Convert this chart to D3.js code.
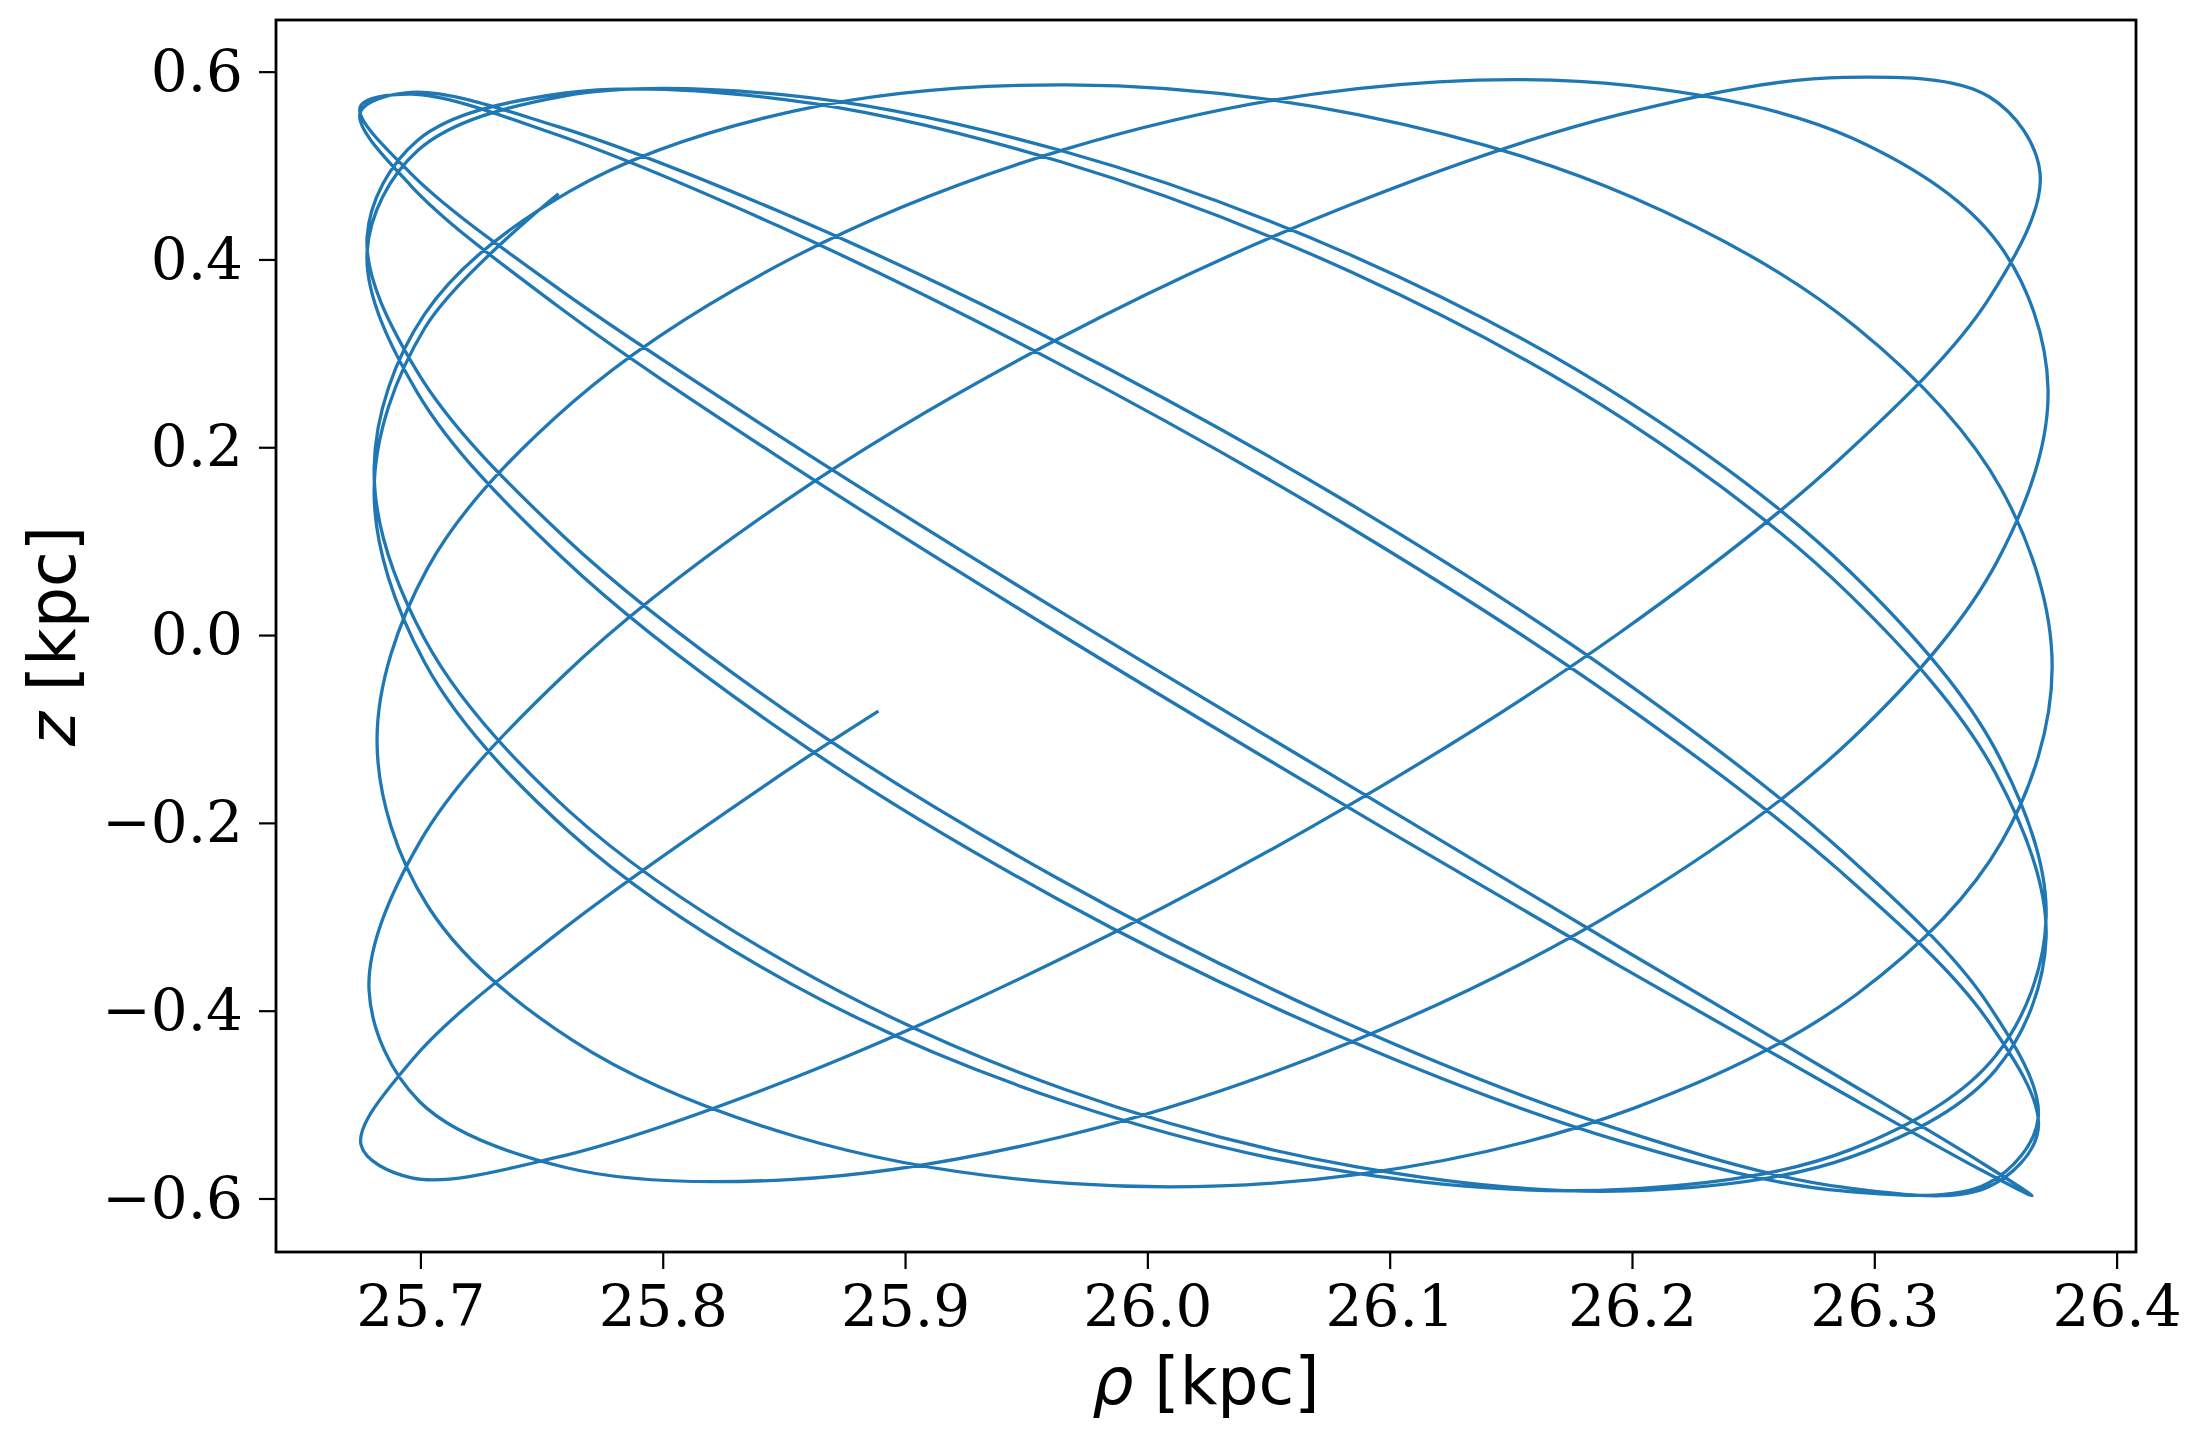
<!DOCTYPE html>
<html>
<head>
<meta charset="utf-8">
<script src="https://cdn.jsdelivr.net/npm/d3@7"></script>
<style>
  html, body { margin: 0; padding: 0; background: #ffffff; }
  svg { display: block; }
</style>
</head>
<body>
<svg id="chart" width="2201" height="1440"></svg>
<script>
// Orbit trace (rho in kpc, z in kpc), in drawing order.
const rho = [
  25.889, 25.8486, 25.7565, 25.6964,
  25.6755,
  25.6964, 25.7566, 25.8487, 25.9618, 26.0821, 26.1952, 26.2873, 26.3475, 26.3684,
  26.3476, 26.2877, 26.1960, 26.0835, 25.9637, 25.8512, 25.7595, 25.6996, 25.6788,
  25.6997, 25.7599, 25.8520, 25.9651, 26.0854, 26.1985, 26.2906, 26.3508, 26.3717,
  26.3509, 26.2910, 26.1993, 26.0868, 25.9670, 25.8545, 25.7628, 25.7029, 25.6821,
  25.7029, 25.7630, 25.8549, 25.9677, 26.0878, 26.2006, 26.2925, 26.3526, 26.3734,
  26.3525, 26.2924, 26.2003, 26.0873, 25.9670, 25.8540, 25.7619, 25.7018, 25.6809,
  25.7017, 25.7616, 25.8534, 25.9660, 26.0858, 26.1984, 26.2902, 26.3501, 26.3709,
  26.3500, 26.2898, 26.1977, 26.0846, 25.9643, 25.8512, 25.7591, 25.6989, 25.6780,
  25.6988, 25.7587, 25.8504, 25.9629, 26.0827, 26.1952, 26.2869, 26.3468, 26.3676,
  26.3467, 26.2866, 26.1945, 26.0815, 25.9612, 25.8482, 25.7561, 25.6960, 25.6751,
  25.6959, 25.7558, 25.8476, 25.9602, 26.0800, 26.1926, 26.2844, 26.3443, 26.3651,
  26.3443, 26.2844, 26.1926, 26.0800, 25.9602, 25.8476, 25.7558, 25.6959, 25.6751,
  25.6960, 25.7561, 25.8482, 25.9612, 26.0815, 26.1945, 26.2866, 26.3467, 26.3676,
  26.3468, 26.2869, 26.1952, 26.0827, 25.9629, 25.8504, 25.7587, 25.6988, 25.6780,
  25.6989, 25.7591, 25.8512, 25.9643, 26.0846, 26.1977, 26.2898, 26.3500, 26.3709,
  26.3501, 26.2902, 26.1984, 26.0858, 25.9660, 25.8534, 25.7616, 25.7017, 25.6809,
  25.7018, 25.7570
];
const z = [
  -0.081, -0.149, -0.318, -0.453,
  -0.543,
  -0.578, -0.556, -0.477, -0.348, -0.183, 0.003, 0.191, 0.359, 0.492,
  0.573, 0.594, 0.555, 0.458, 0.316, 0.144, -0.042, -0.221, -0.378,
  -0.497, -0.567, -0.580, -0.534, -0.432, -0.286, -0.111, 0.079, 0.262,
  0.418, 0.529, 0.585, 0.582, 0.518, 0.403, 0.248, 0.071, -0.114,
  -0.288, -0.432, -0.534, -0.584, -0.574, -0.504, -0.383, -0.220, -0.034,
  0.155, 0.328, 0.466, 0.554, 0.586, 0.558, 0.473, 0.342, 0.178,
  -0.004, -0.188, -0.352, -0.484, -0.566, -0.592, -0.556, -0.463, -0.322,
  -0.147, 0.043, 0.228, 0.386, 0.504, 0.570, 0.577, 0.527, 0.424,
  0.280, 0.106, -0.080, -0.259, -0.414, -0.527, -0.588, -0.588, -0.527,
  -0.410, -0.253, -0.070, 0.118, 0.292, 0.435, 0.533, 0.576, 0.562,
  0.492, 0.371, 0.213, 0.031, -0.155, -0.329, -0.469, -0.562, -0.597,
  -0.570, -0.484, -0.349, -0.179, 0.007, 0.190, 0.352, 0.479, 0.556,
  0.578, 0.542, 0.451, 0.314, 0.143, -0.045, -0.230, -0.392, -0.515,
  -0.584, -0.592, -0.539, -0.431, -0.281, -0.104, 0.082, 0.258, 0.408,
  0.516, 0.574, 0.575, 0.516, 0.404, 0.250, 0.068, -0.122, -0.301,
  -0.448, -0.548, -0.590, -0.573, -0.497, -0.372, -0.210, -0.029, 0.155,
  0.327, 0.470
];
const xTicks = [25.7, 25.8, 25.9, 26.0, 26.1, 26.2, 26.3, 26.4];
const yTicks = [-0.6, -0.4, -0.2, 0.0, 0.2, 0.4, 0.6];
const xDomain = [25.6404, 26.408];
const yDomain = [-0.657, 0.655];

const frame = { left: 276, right: 2136, top: 20, bottom: 1252 };
const svg = d3.select("#chart");

const x = d3.scaleLinear().domain(xDomain).range([frame.left, frame.right]);
const y = d3.scaleLinear().domain(yDomain).range([frame.bottom, frame.top]);

svg.append("rect").attr("width", 2201).attr("height", 1440).attr("fill", "#ffffff");

svg.append("clipPath").attr("id", "plotclip")
  .append("rect")
  .attr("x", frame.left).attr("y", frame.top)
  .attr("width", frame.right - frame.left).attr("height", frame.bottom - frame.top);

const pts = d3.zip(rho, z);
const line = d3.line()
  .x(d => x(d[0]))
  .y(d => y(d[1]))
  .curve(d3.curveCatmullRom.alpha(0.5));

svg.append("path")
  .attr("clip-path", "url(#plotclip)")
  .attr("d", line(pts))
  .attr("fill", "none")
  .attr("stroke", "#1f77b4")
  .attr("stroke-width", 3.3)
  .attr("stroke-linejoin", "round")
  .attr("stroke-linecap", "butt");

const fmt = d3.format(".1f");

const xAxis = d3.axisBottom(x).tickValues(xTicks).tickFormat(fmt)
  .tickSize(17).tickSizeOuter(0).tickPadding(16);
const yAxis = d3.axisLeft(y).tickValues(yTicks).tickFormat(fmt)
  .tickSize(17).tickSizeOuter(0).tickPadding(16);

const gx = svg.append("g").attr("transform", `translate(0,${frame.bottom})`).call(xAxis);
const gy = svg.append("g").attr("transform", `translate(${frame.left},0)`).call(yAxis);

[gx, gy].forEach(g => {
  g.select(".domain").remove();
  g.selectAll(".tick line").attr("stroke", "#000").attr("stroke-width", 2.2);
  g.selectAll(".tick text")
    .attr("fill", "#000")
    .style("font-family", "'DejaVu Serif', serif")
    .style("font-size", "58px");
});

svg.append("rect")
  .attr("x", frame.left).attr("y", frame.top)
  .attr("width", frame.right - frame.left).attr("height", frame.bottom - frame.top)
  .attr("fill", "none").attr("stroke", "#000").attr("stroke-width", 2.8);

const xl = svg.append("text")
  .attr("x", (frame.left + frame.right) / 2).attr("y", 1404)
  .attr("text-anchor", "middle")
  .style("font-family", "'DejaVu Sans', sans-serif").style("font-size", "65px").attr("fill", "#000");
xl.append("tspan").style("font-style", "italic").text("ρ");
xl.append("tspan").text(" [kpc]");

const yl = svg.append("text")
  .attr("transform", `translate(75,${(frame.top + frame.bottom) / 2}) rotate(-90)`)
  .attr("text-anchor", "middle")
  .style("font-family", "'DejaVu Sans', sans-serif").style("font-size", "65px").attr("fill", "#000");
yl.append("tspan").style("font-style", "italic").text("z");
yl.append("tspan").text(" [kpc]");
</script>
</body>
</html>
